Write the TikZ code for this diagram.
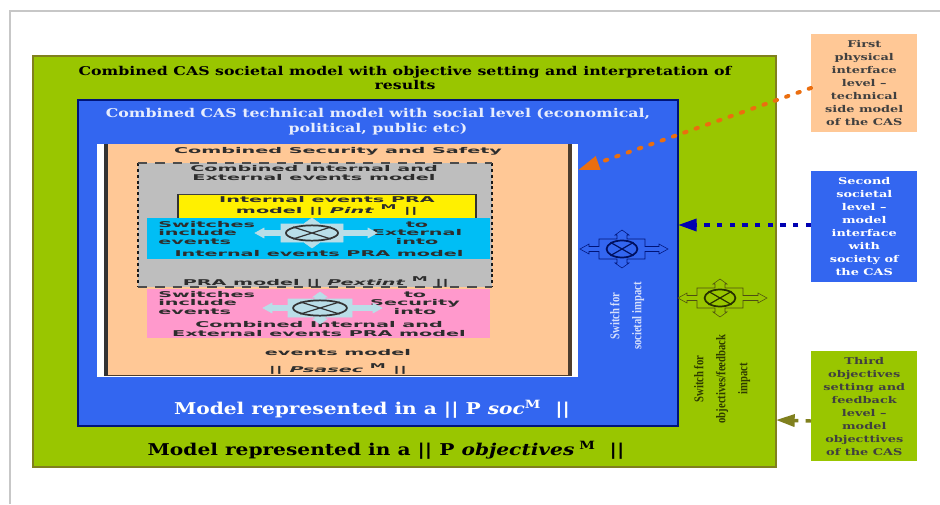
\documentclass[tikz,border=0pt]{standalone}
\usepackage{fontspec}
\setmainfont{DejaVu Serif}
\newfontfamily\hserif[FakeStretch=1.3]{DejaVu Serif}
\newfontfamily\mserif[FakeStretch=1.24]{DejaVu Serif}
\newfontfamily\sideserif[FakeStretch=1.38]{DejaVu Serif}
\newfontfamily\wsans[FakeStretch=2.4]{DejaVu Sans}
\newfontfamily\lserif[FakeStretch=.8]{Liberation Serif}
\usetikzlibrary{shapes.geometric,arrows.meta}
\definecolor{grn}{RGB}{153,198,0}
\definecolor{olv}{RGB}{128,128,30}
\definecolor{blu}{RGB}{51,102,240}
\definecolor{navy2}{RGB}{0,20,120}
\definecolor{pch}{RGB}{255,200,150}
\definecolor{gry}{RGB}{190,190,190}
\definecolor{yel}{RGB}{255,240,0}
\definecolor{cya}{RGB}{0,190,245}
\definecolor{pnk}{RGB}{255,153,204}
\definecolor{lite}{RGB}{185,222,232}
\definecolor{orng}{RGB}{235,110,15}
\definecolor{txd}{RGB}{45,45,45}
\tikzset{
  panel/.style={anchor=north west,minimum width=#1,inner sep=0pt,outer sep=0pt},
  hlbl/.style={align=center,inner sep=0pt,font=\hserif\bfseries\fontsize{9.1}{11.2}\selectfont},
  mlbl/.style={align=center,inner sep=0pt,font=\mserif\bfseries\fontsize{12.2}{14}\selectfont},
  slbl/.style={align=center,inner sep=0pt,text=txd,font=\wsans\bfseries\fontsize{6}{6.2}\selectfont},
  side/.style={anchor=north west,inner sep=0pt,minimum width=79.5pt,align=center,text=black!75,
     font=\sideserif\bfseries\fontsize{7}{9.75}\selectfont},
  vlbl/.style={rotate=90,align=center,inner sep=0pt,font=\lserif\bfseries\fontsize{10}{16.5}\selectfont},
  link/.style={line width=2.6pt,dash pattern=on 4pt off 5.5pt,-{Triangle[length=14pt,width=9pt]}},
  dotlink/.style={line width=3pt,line cap=round,dash pattern=on 1.8pt off 7.2pt,-{Triangle[length=16pt,width=10pt]}},
}
\newcommand{\swfrac}{.84}
% \cswitch{name}{x}{y}{half w body}{half h body}{left}{right}{up}{fill}
\newcommand{\cswitch}[9]{%
  \begin{scope}[shift={(#2,#3)}]
    \path[fill=#9,draw=swline,line width=.4pt]
      (-#4,-#5) -- (-5,-#5) -- (-5,-#8+5) -- (-7,-#8+5) -- (0,-#8) -- (7,-#8+5) -- (5,-#8+5) -- (5,-#5)
      -- (#4,-#5) -- (#4,-2.5) -- (#7-9,-2.5) -- (#7-9,-5) -- (#7,0) -- (#7-9,5) -- (#7-9,2.5) -- (#4,2.5)
      -- (#4,#5) -- (5,#5) -- (5,#8-5) -- (7,#8-5) -- (0,#8) -- (-7,#8-5) -- (-5,#8-5) -- (-5,#5)
      -- (-#4,#5) -- (-#4,2.5) -- (-#6+9,2.5) -- (-#6+9,5) -- (-#6,0) -- (-#6+9,-5) -- (-#6+9,-2.5) -- (-#4,-2.5) -- cycle;
    \node[ellipse,draw=swring,line width=1.3pt,minimum width=2*#4*\swfrac*.75pt,minimum height=2*#5*.85*.75pt,inner sep=0pt] (#1) at (0,0) {};
    \draw[swring,line width=.9pt] (#1.north west) -- (#1.south east) (#1.north east) -- (#1.south west);
  \end{scope}}
\begin{document}
\begin{tikzpicture}[x=.75pt,y=-.75pt]
\useasboundingbox (0,0) rectangle (940,504);
\fill[white] (0,0) rectangle (940,504);
\draw[black!22,line width=1.5pt] (10,504) -- (10,11) -- (940,11);
% nested panels
\node[panel=557.25pt,minimum height=308.25pt,fill=grn,draw=olv,line width=1pt] (outer) at (33,56) {};
\node[panel=450pt,minimum height=244.5pt,fill=blu,draw=navy2,line width=1.2pt] (tech) at (78,100) {};
\node[panel=360.75pt,minimum height=174.75pt,fill=white] (sheet) at (97,144) {};
\fill[black!80] (104,144) rectangle (108,376);
\node[panel=345pt,minimum height=173.25pt,fill=pch] (safety) at (108,144) {};
\fill[black!70!pch] (568,144) rectangle (572,376);
\draw[black!70!pch,line width=.8pt] (108,375.5) -- (572,375.5);
% grey panel with its two dash styles
\node[panel=265.5pt,minimum height=93pt,fill=gry] (ext) at (138,163) {};
\draw[black!90,line width=2pt,dash pattern=on 2.2pt off 2.2pt] (ext.north west) -- (ext.south west) (ext.north east) -- (ext.south east);
\draw[black!70,line width=1.4pt,dash pattern=on 7pt off 6pt] (ext.north west) -- (ext.north east) (ext.south west) -- (ext.south east);
\node[panel=223.5pt,minimum height=18pt,fill=yel] (yellow) at (178,194) {};
\draw[black!75,line width=.7pt] (yellow.north west) -- (yellow.north east);
\draw[black!80,line width=2pt] (yellow.north west) -- (yellow.south west) (yellow.north east) -- (yellow.south east);
\node[panel=257.25pt,minimum height=30.75pt,fill=cya] (cyan) at (147,218) {};
\node[panel=257.25pt,minimum height=36.75pt,fill=pnk] (pink) at (147,289) {};
% side boxes
\node[side,minimum height=73.5pt,fill=pch] (b1) at (811,34) {First\\physical\\interface\\level –\\technical\\side model\\of the CAS};
\node[side,minimum height=83.25pt,fill=blu,text=white] (b2) at (811,171) {Second\\societal\\level –\\model\\interface\\with\\society of\\the CAS};
\node[side,minimum height=82.5pt,fill=grn] (b3) at (811,351) {Third\\objectives\\setting and\\feedback\\level –\\model\\objecttives\\of the CAS};
% headings
\node[hlbl] (t1) at (405,78) {Combined CAS societal model with objective setting and interpretation of\\results};
\node[hlbl,text=white!88!blu] (t2) at (378,122) {Combined CAS technical model with social level (economical,\\political, public etc)};
\node[mlbl,text=white] (t3) at (372,409) {Model represented in a || P \textit{soc}\textsuperscript{M} \ ||};
\node[mlbl] (t4) at (386,450) {Model represented in a || P \textit{objectives}\textsuperscript{ M} \ ||};
% inner labels
\node[slbl] (t5) at (338,151) {Combined Security and Safety};
\node[slbl] (t6) at (314,173) {Combined Internal and\\External events model};
\node[slbl,font=\wsans\bfseries\fontsize{6}{8.2}\selectfont] (t7) at (327,205.5) {Internal events PRA\\model || \textit{Pint} \textsuperscript{M} ||};
\node[slbl,align=left,anchor=west] (t8) at (158,233) {Switches\\include\\events};
\node[slbl] (t9) at (417,233) {to\\External\\into};
\node[slbl] (t10) at (319,254) {Internal events PRA model};
\node[slbl] (t11) at (316,282) {PRA model || \textit{Pextint} \textsuperscript{M} ||};
\node[slbl,align=left,anchor=west] (t12) at (158,303) {Switches\\include\\events};
\node[slbl] (t13) at (415,303) {to\\Security\\into};
\node[slbl] (t14) at (319,329) {Combined Internal and\\External events PRA model};
\node[slbl] (t15) at (338,353) {events model};
\node[slbl] (t16) at (338,369) {|| \textit{Psasec} \textsuperscript{M} ||};
% switches
\renewcommand{\swfrac}{.84}
\colorlet{swline}{lite}\colorlet{swring}{black!80}
\cswitch{s1}{312}{233}{31}{9}{57}{65}{15}{lite}
\cswitch{s2}{320}{308}{32}{9}{57}{62}{16}{lite}
\renewcommand{\swfrac}{.67}
\colorlet{swline}{navy2}\colorlet{swring}{navy2!80!black}
\cswitch{s3}{622}{249}{23}{10}{42}{46}{19}{blu}
\colorlet{swline}{olv!60!black}\colorlet{swring}{black!75!grn}
\cswitch{s4}{720}{298}{23}{10}{42}{47}{19}{grn}
% rotated labels
\node[vlbl,text=white!80!blu] (v1) at (627,316) {Switch for\\societal impact};
\node[vlbl,text=black!70!grn] (v2) at (722,379) {Switch for\\objectives/feedback\\impact};
% connectors
\draw[dotlink,orng] (b1.west |- 0,88) -- (sheet.east |- 0,170);
\draw[link,blue!70!black] (b2.west |- 0,225) -- (tech.east |- 0,225);
\draw[link,olv] (b3.west |- 0,421) -- (outer.east |- 0,420);
\end{tikzpicture}
\end{document}
